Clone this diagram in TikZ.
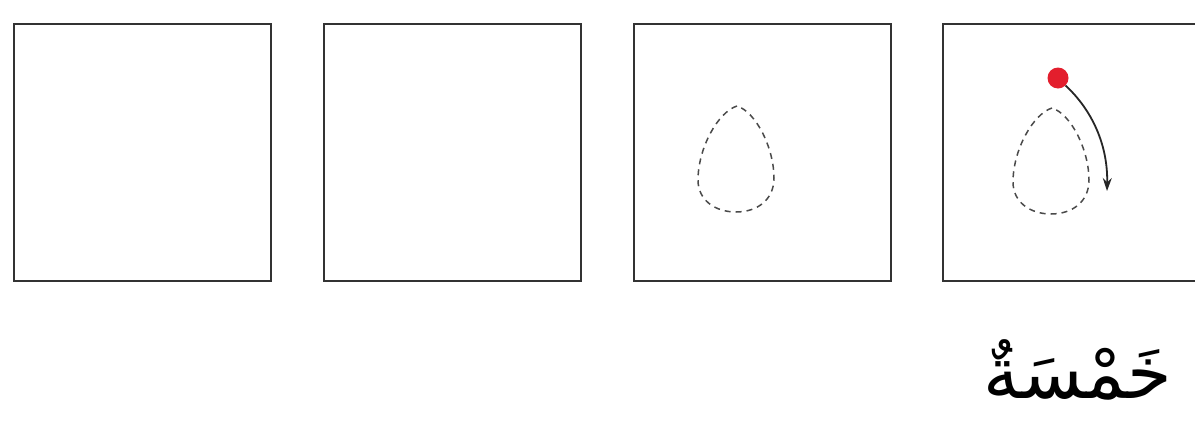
\documentclass[tikz,border=0pt]{standalone}
\usepackage{fontspec}
\usetikzlibrary{arrows.meta}
\newfontfamily\arabicfont[Script=Arabic]{DejaVu Sans}
\TeXXeTstate=1
\definecolor{boxline}{HTML}{333333}
\definecolor{dropline}{HTML}{4A4A4A}
\definecolor{dotred}{HTML}{E31E2D}
\tikzset{
  framebox/.style={draw=boxline, line width=2pt, minimum width=257pt, minimum height=257pt, inner sep=0pt, outer sep=0pt},
  drop/.style={draw=dropline, line width=1.5pt, dash pattern=on 6pt off 5pt},
  reddot/.style={circle, fill=dotred, minimum size=21pt, inner sep=0pt},
  curvearrow/.style={draw=black!85, line width=1.8pt, -{Stealth[length=13pt,width=9pt]}},
}
\begin{document}
\begin{tikzpicture}[x=1pt,y=-1pt]
\clip (0,0) rectangle (1195,421);
\fill[white] (0,0) rectangle (1195,421);
\node[framebox] (b1) at (142.5,152.5) {};
\node[framebox] (b2) at (452.5,152.5) {};
\node[framebox] (b3) at (762.5,152.5) {};
\node[framebox] (b4) at (1071.5,152.5) {};
% teardrop in box 3
\draw[drop] (737,106) .. controls (718,112) and (698,148) .. (698,180)
  .. controls (698,200) and (715,212) .. (736,212)
  .. controls (757,212) and (774,200) .. (774,178)
  .. controls (774,148) and (756,112) .. cycle;
% teardrop in box 4
\begin{scope}[shift={(315,2)}]
\draw[drop] (737,106) .. controls (718,112) and (698,148) .. (698,180)
  .. controls (698,200) and (715,212) .. (736,212)
  .. controls (757,212) and (774,200) .. (774,178)
  .. controls (774,148) and (756,112) .. cycle;
\end{scope}
\node[reddot] (dot) at (1058,78) {};
\coordinate (aend) at (1107,191);
\draw[curvearrow] (dot.-45) .. controls (1092,110) and (1108,145) .. (aend);
\node[inner sep=0pt] (word) at (1078,370) {\fontsize{72}{86}\selectfont\arabicfont\beginR خَمْسَةٌ\endR};
\end{tikzpicture}
\end{document}
